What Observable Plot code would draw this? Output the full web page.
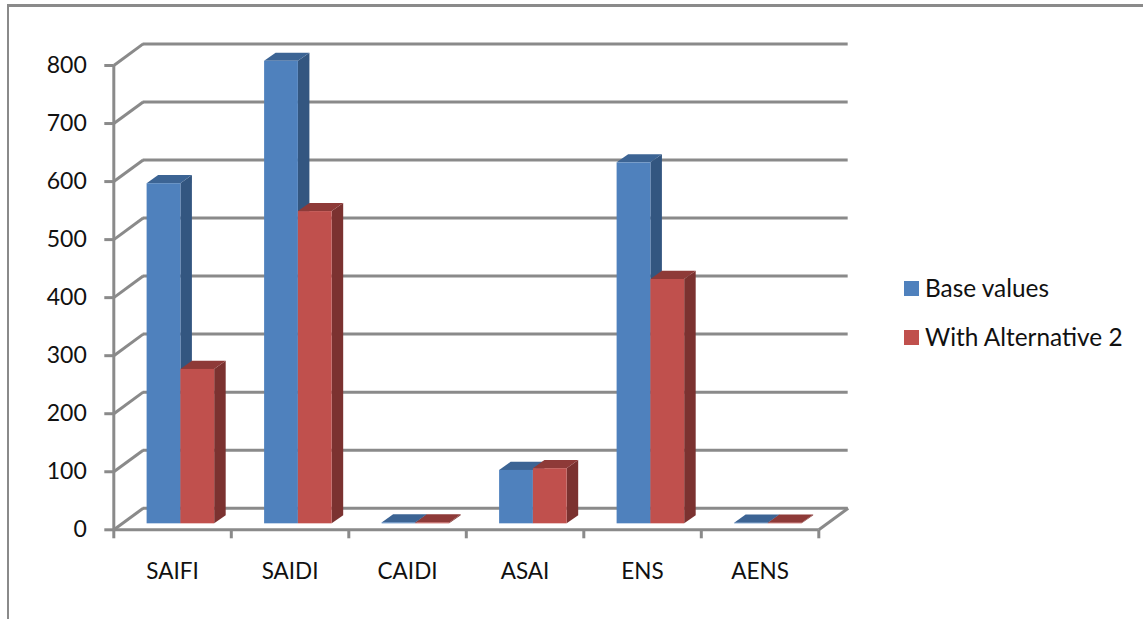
<!DOCTYPE html>
<html>
<head>
<meta charset="utf-8">
<style>
html,body{margin:0;padding:0;background:#fff;overflow:hidden}
#wrap{position:relative;width:1143px;height:619px;font-family:Lato,sans-serif}
#frame{position:absolute;left:7px;top:4px;right:-4px;bottom:-4px;border-top:3px solid #8a8a8a;border-left:2px solid #8a8a8a}
#chart{position:absolute;left:0;top:0}
#chart svg{display:block;overflow:visible}
.legend{position:absolute;left:904px;font-size:24.4px;line-height:24px;color:#111;white-space:nowrap}
.legend i{position:absolute;left:0;top:5px;width:15px;height:15px}
.legend span{position:absolute;left:21px;top:0}
</style>
<script src="https://cdn.jsdelivr.net/npm/d3@7"></script>
<script src="https://cdn.jsdelivr.net/npm/@observablehq/plot@0.6"></script>
</head>
<body>
<div id="wrap">
  <div id="frame"></div>
  <div id="chart"></div>
  <div class="legend" style="top:276px"><i style="background:#4F81BD"></i><span>Base values</span></div>
  <div class="legend" style="top:325px"><i style="background:#C0504D"></i><span>With Alternative 2</span></div>
</div>
<script>
const categories = ["SAIFI", "SAIDI", "CAIDI", "ASAI", "ENS", "AENS"];
const baseValues = [586, 797, 1.5, 92, 622, 1];
const alt2Values = [266, 538, 1.5, 95, 421, 1];
const yTicks = [0, 100, 200, 300, 400, 500, 600, 700, 800];
const seriesNames = ["Base values", "With Alternative 2"];
const faceColors = {
  "Base values": {front: "#4F81BD", side: "#335680", top: "#3C6494"},
  "With Alternative 2": {front: "#C0504D", side: "#7B3230", top: "#8E3A38"}
};

// projection of the pseudo-3D box, in data units
const wallX = 0.25, wallY = 37.2;
const barBase = 10.3, barInset = 0.2835, barW = 0.2875, depthX = 0.098, depthY = 14;
const grid = "#8a8a8a", gridW = 3;

const bars = categories.flatMap((c, i) => [
  {c, i, s: 0, v: baseValues[i]},
  {c, i, s: 1, v: alt2Values[i]}
]);

const barMarks = bars.flatMap(d => {
  const l = d.i + barInset + d.s * barW, r = l + barW;
  const b = barBase, t = barBase + d.v;
  const col = faceColors[seriesNames[d.s]];
  return [
    Plot.areaY([{x: r, y1: b, y2: t}, {x: r + depthX, y1: b + depthY, y2: t + depthY}],
      {x: "x", y1: "y1", y2: "y2", fill: col.side}),
    Plot.areaX([{y: t, x1: l, x2: r}, {y: t + depthY, x1: l + depthX, x2: r + depthX}],
      {y: "y", x1: "x1", x2: "x2", fill: col.top}),
    Plot.rectY([d], {x1: () => l, x2: () => r, y1: () => b, y2: () => t, fill: col.front, inset: 0})
  ];
});

const plot = Plot.plot({
  width: 1143,
  height: 619,
  marginLeft: 113.3,
  marginRight: 324.7,
  marginTop: 65,
  marginBottom: 89.7,
  style: {background: "transparent", fontFamily: "Lato, sans-serif", color: "#111"},
  x: {domain: [0, 6], axis: null},
  y: {domain: [0, 800], axis: null},
  marks: [
    // back wall gridlines and their diagonals
    Plot.ruleY(yTicks, {y: d => d + wallY, x1: wallX, x2: 6 + wallX, stroke: grid, strokeWidth: gridW}),
    Plot.link(yTicks, {x1: () => 0, y1: d => d, x2: () => wallX, y2: d => d + wallY, stroke: grid, strokeWidth: gridW}),
    // floor right edge
    Plot.link([0], {x1: () => 6, y1: () => 0, x2: () => 6 + wallX, y2: () => wallY, stroke: grid, strokeWidth: gridW}),
    // front axis lines
    Plot.ruleX([0], {y1: 0, y2: 800, stroke: grid, strokeWidth: gridW}),
    Plot.ruleY([0], {x1: 0, x2: 6, stroke: grid, strokeWidth: gridW}),
    ...barMarks,
    // y axis
    Plot.axisY({
      ticks: yTicks, tickSize: 9, tickPadding: 18, stroke: grid, strokeWidth: gridW, strokeOpacity: 1,
      fontSize: 23, tickFormat: d => String(d), label: null, color: "#111"
    }),
    // x axis ticks
    Plot.axisX({
      ticks: d3.range(0, 7), tickSize: 9, stroke: grid, strokeWidth: gridW, strokeOpacity: 1,
      tickFormat: () => "", label: null
    }),
    // x axis labels
    Plot.axisX({
      ticks: categories.map((c, i) => i + 0.5), tickSize: 0, tickPadding: 33,
      fontSize: 22.5, tickFormat: d => categories[d - 0.5], label: null, color: "#111"
    })
  ]
});
document.getElementById("chart").appendChild(plot);
</script>
</body>
</html>
